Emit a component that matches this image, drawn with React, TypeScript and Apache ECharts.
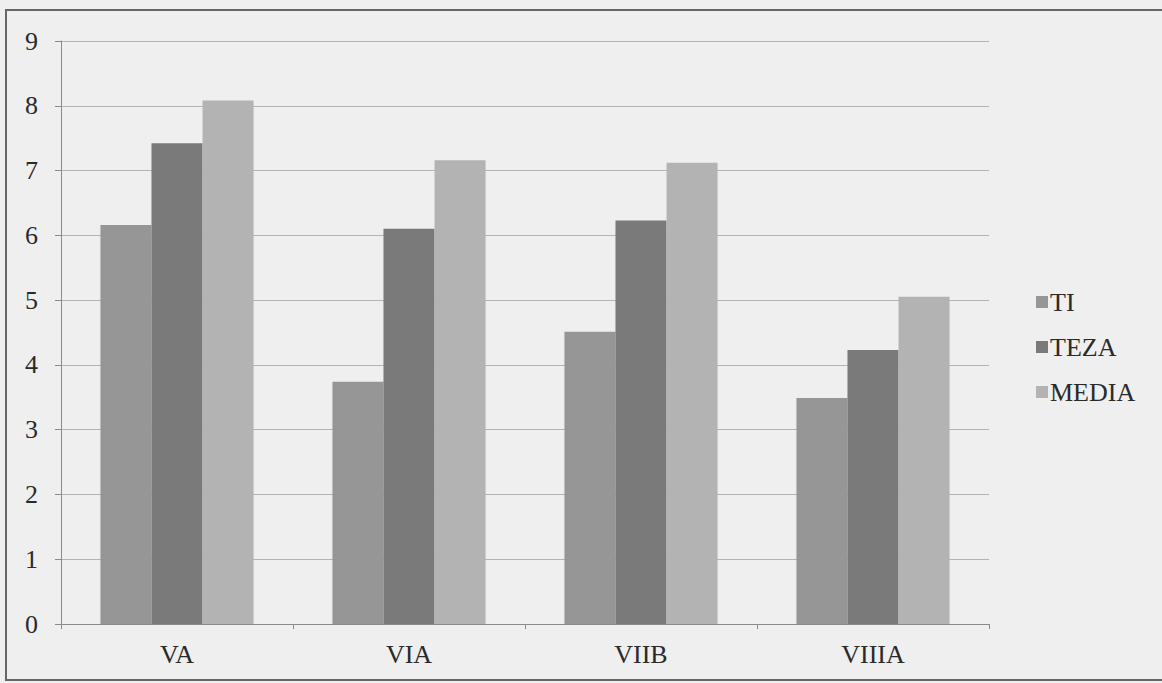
import React, { useEffect, useRef } from "react";
import * as echarts from "echarts";

const categories = ["VA", "VIA", "VIIB", "VIIIA"];
const seriesNames = ["TI", "TEZA", "MEDIA"];
const tiValues = [6.16, 3.74, 4.51, 3.49];
const tezaValues = [7.42, 6.1, 6.23, 4.23];
const mediaValues = [8.08, 7.16, 7.12, 5.05];
const yTicks = [0, 1, 2, 3, 4, 5, 6, 7, 8, 9];

const colors = ["#969696", "#7a7a7a", "#b3b3b3"];
const FONT = "Liberation Serif, Times New Roman, serif";

export default function App() {
  const ref = useRef<HTMLDivElement>(null);
  useEffect(() => {
    document.body.style.margin = "0";
    const chart = echarts.init(ref.current!, null, { renderer: "svg" });
    const values = [tiValues, tezaValues, mediaValues];
    chart.setOption({
      animation: false,
      backgroundColor: "#efefef",
      textStyle: { fontFamily: FONT },
      graphic: [
        {
          type: "rect",
          shape: { x: 6, y: 10, width: 1180, height: 670 },
          style: { fill: "none", stroke: "#666666", lineWidth: 2 },
          silent: true,
        },
      ],
      grid: { left: 61, right: 173, top: 41, bottom: 59 },
      legend: {
        orient: "vertical",
        left: 1031,
        top: 284,
        itemWidth: 12,
        itemHeight: 12,
        itemGap: 19,
        icon: "rect",
        data: seriesNames,
        textStyle: { fontFamily: FONT, fontSize: 26, color: "#2a2a2a", padding: [0, 0, 0, -3] },
      },
      xAxis: {
        type: "category",
        data: categories,
        axisLine: { lineStyle: { color: "#8a8a8a", width: 1 } },
        axisTick: { show: true, length: 5, lineStyle: { color: "#8a8a8a" } },
        axisLabel: { fontFamily: FONT, fontSize: 26, color: "#2a2a2a", margin: 17 },
      },
      yAxis: {
        type: "value",
        min: 0,
        max: 9,
        interval: 1,
        axisLine: { show: true, lineStyle: { color: "#8a8a8a", width: 1 } },
        axisTick: { show: true, length: 6, lineStyle: { color: "#8a8a8a" } },
        axisLabel: {
          fontFamily: FONT,
          fontSize: 26,
          color: "#2a2a2a",
          margin: 23,
          formatter: (v: number) => (yTicks.includes(v) ? String(v) : ""),
        },
        splitLine: { lineStyle: { color: "#b3b3b3", width: 1 } },
      },
      series: seriesNames.map((name, i) => ({
        name,
        type: "bar",
        data: values[i],
        barGap: "0%",
        barCategoryGap: "34%",
        itemStyle: { color: colors[i] },
      })),
    });
    return () => chart.dispose();
  }, []);
  return (
    <div
      ref={ref}
      style={{ position: "absolute", left: 0, top: 0, width: 1162, height: 683 }}
    />
  );
}
